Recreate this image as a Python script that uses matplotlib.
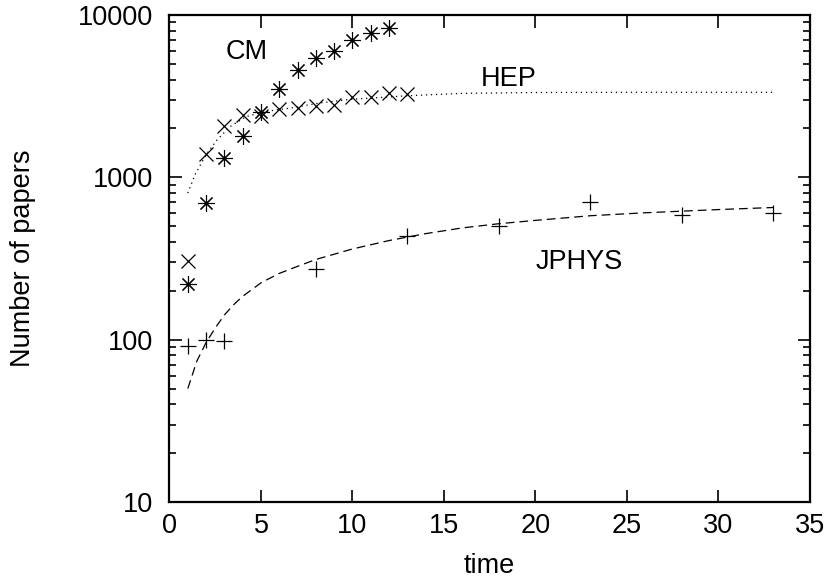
import matplotlib
matplotlib.use("Agg")
import matplotlib.pyplot as plt
from matplotlib.ticker import LogLocator, NullFormatter, FixedLocator

plt.rcParams['font.family'] = ['Liberation Sans', 'DejaVu Sans']

# data
cm_t = [1, 2, 3, 4, 5, 6, 7, 8, 9, 10, 11, 12]
cm_n = [219, 696, 1316, 1804, 2510, 3510, 4590, 5470, 6010, 7020, 7720, 8280]

hep_t = [1, 2, 3, 4, 5, 6, 7, 8, 9, 10, 11, 12, 13]
hep_n = [305, 1393, 2078, 2430, 2370, 2630, 2670, 2755, 2795, 3116, 3145, 3325, 3250]

jphys_t = [1, 2, 3, 8, 13, 18, 23, 28, 33]
jphys_n = [91, 100, 98, 271, 438, 500, 706, 590, 604]

# fitted curves, sampled by eye
hep_fit_t = [1, 1.4, 2, 2.6, 3.3, 4.2, 5.3, 6.6, 8.2, 10, 13, 16, 20, 25, 33]
hep_fit_n = [800, 1040, 1380, 1700, 2050, 2370, 2550, 2670, 2870, 3030, 3180, 3290, 3330, 3340, 3340]

jphys_fit_t = [1, 1.5, 2, 2.5, 3, 3.5, 4, 5, 6, 7, 8, 10, 12, 14, 16, 18, 20, 23, 26, 30, 33]
jphys_fit_n = [50, 74, 96, 118, 142, 164, 185, 224, 256, 283, 312, 362, 408, 450, 488, 518, 543, 580, 605, 633, 652]

fs = 19.5

fig = plt.figure(figsize=(8.3, 5.83), dpi=100)
ax = fig.add_axes([0.2042, 0.1389, 0.7717, 0.8354])

ax.plot(hep_fit_t, hep_fit_n, color='black', lw=0.9, linestyle=(0, (1, 3)))
ax.plot(jphys_fit_t, jphys_fit_n, color='black', lw=0.9, linestyle=(0, (7, 4)))

ax.plot(cm_t, cm_n, linestyle='none', marker=(8, 2, 0), ms=12, mew=0.8, color='black')
ax.plot(hep_t, hep_n, linestyle='none', marker='x', ms=10, mew=0.9, color='black')
ax.plot(jphys_t, jphys_n, linestyle='none', marker='+', ms=12, mew=0.9, color='black')

ax.set_yscale('log')
ax.set_xlim(0, 35)
ax.set_ylim(10, 10000)
ax.xaxis.set_major_locator(FixedLocator([0, 5, 10, 15, 20, 25, 30, 35]))
ax.yaxis.set_major_locator(FixedLocator([10, 100, 1000, 10000]))
ax.set_yticklabels(['10', '100', '1000', '10000'])
ax.yaxis.set_minor_locator(LogLocator(base=10, subs=range(2, 10)))
ax.yaxis.set_minor_formatter(NullFormatter())

ax.tick_params(which='both', direction='in', top=True, right=True, labelsize=fs, width=1.2)
ax.tick_params(which='major', length=9)
ax.tick_params(axis='x', which='major', pad=8)
ax.tick_params(axis='y', which='major', pad=12)
ax.tick_params(which='minor', length=5)
for s in ax.spines.values():
    s.set_linewidth(1.6)

ax.set_xlabel('time', fontsize=fs, labelpad=10)
ax.set_ylabel('Number of papers', fontsize=fs, labelpad=30)

ax.text(4.2, 5930, 'CM', fontsize=fs, ha='center', va='center')
ax.text(18.55, 4040, 'HEP', fontsize=fs, ha='center', va='center')
ax.text(22.4, 301, 'JPHYS', fontsize=fs, ha='center', va='center')

fig.savefig('out.png', dpi=100)
